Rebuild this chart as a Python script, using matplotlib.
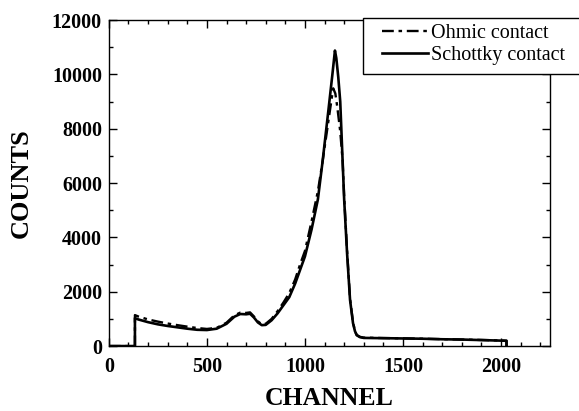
import numpy as np
import matplotlib.pyplot as plt
from matplotlib.patches import Rectangle
from matplotlib.ticker import MultipleLocator

# spectrum (channel, counts)
schottky_ch = [0, 133, 133, 150, 200, 250, 300, 350, 400, 450, 500, 550, 600, 640, 670,
               700, 720, 740, 760, 780, 800, 830, 860, 890, 920, 950, 975, 1000, 1034,
               1066, 1090, 1120, 1140, 1153, 1160, 1170, 1180, 1192, 1200, 1215, 1230,
               1245, 1255, 1264, 1280, 1300, 1400, 1500, 1600, 1700, 1800, 1900, 2000,
               2028, 2028]
schottky_counts = [0, 0, 1030, 980, 880, 800, 740, 690, 640, 600, 590, 640, 820, 1080, 1180,
                   1170, 1190, 1050, 870, 770, 780, 950, 1200, 1500, 1800, 2300, 2800, 3300,
                   4300, 5400, 6800, 8700, 10000, 10880, 10600, 9900, 9000, 6840, 5400, 3400,
                   1700, 850, 550, 400, 330, 300, 290, 280, 270, 250, 240, 220, 200,
                   195, 0]

ohmic_ch = [0, 133, 133, 150, 200, 250, 300, 350, 400, 450, 500, 550, 600, 640, 670,
            700, 720, 740, 760, 780, 800, 830, 860, 890, 920, 950, 975, 1000, 1034,
            1066, 1090, 1110, 1130, 1144, 1155, 1165, 1180, 1192, 1200, 1215, 1230,
            1245, 1255, 1264, 1280, 1300, 1400, 1500, 1600, 1700, 1800, 1900, 2000,
            2028, 2028]
ohmic_counts = [0, 0, 1140, 1090, 980, 900, 830, 770, 715, 665, 630, 670, 860, 1130, 1230,
                1220, 1240, 1090, 910, 800, 820, 1000, 1280, 1600, 1950, 2450, 3000, 3500,
                4600, 5700, 6800, 7800, 8800, 9490, 9300, 8800, 7900, 6840, 5500, 3500,
                1750, 880, 560, 410, 340, 310, 295, 285, 270, 255, 240, 225, 205,
                195, 0]

plt.rcParams['font.family'] = 'Liberation Serif'

fig = plt.figure(figsize=(5.79, 4.11), dpi=100)
ax = fig.add_axes([0.188, 0.158, 0.762, 0.793])

ax.plot(ohmic_ch, ohmic_counts, color='black', lw=1.7,
        dashes=(5, 2, 1.5, 2), label='Ohmic contact')
ax.plot(schottky_ch, schottky_counts, color='black', lw=1.9, label='Schottky contact')

ax.set_xlim(0, 2250)
ax.set_ylim(0, 12000)
ax.xaxis.set_major_locator(MultipleLocator(500))
ax.xaxis.set_minor_locator(MultipleLocator(100))
ax.yaxis.set_major_locator(MultipleLocator(2000))
ax.yaxis.set_minor_locator(MultipleLocator(1000))
ax.tick_params(which='both', direction='in', top=True, right=True, width=1)
ax.tick_params(which='major', length=6, labelsize=14.5)
ax.tick_params(axis='x', which='major', pad=8)
ax.tick_params(axis='y', which='major', pad=5)
ax.tick_params(which='minor', length=3)
for lbl in ax.get_xticklabels() + ax.get_yticklabels():
    lbl.set_fontweight('bold')
for sp in ax.spines.values():
    sp.set_linewidth(1)

ax.set_xlabel('CHANNEL', fontsize=18.5, fontweight='bold', labelpad=7)
ax.set_ylabel('COUNTS', fontsize=19, fontweight='bold', labelpad=14)

# legend box sits over the axes corner and runs past the figure edge
box = Rectangle((363 / 579, 1 - 74 / 411), 240 / 579, 56 / 411,
                transform=fig.transFigure, facecolor='white',
                edgecolor='black', lw=1, zorder=4)
fig.add_artist(box)
leg = fig.legend(loc='upper left', bbox_to_anchor=(382 / 579, 1 - 24 / 411),
                 fontsize=14.5, frameon=False,
                 handlelength=2.3, handletextpad=0.15, borderpad=0,
                 labelspacing=0.15, borderaxespad=0)
leg.set_zorder(5)

fig.savefig('out.png', dpi=100)
